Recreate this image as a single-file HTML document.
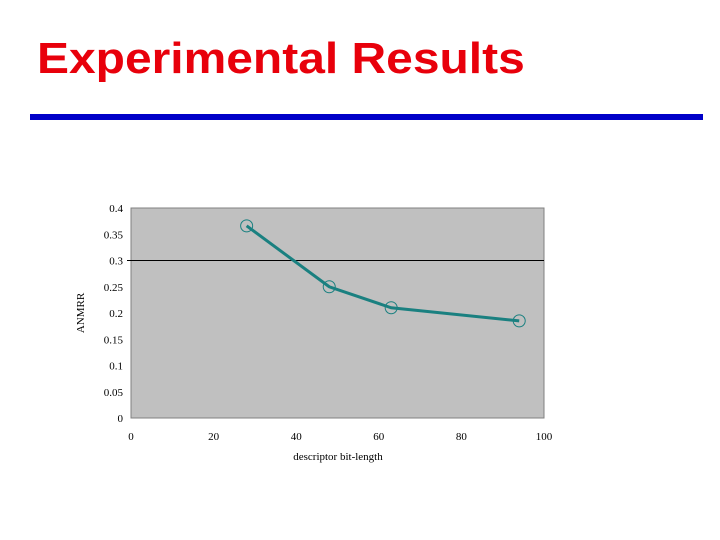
<!DOCTYPE html>
<html><head><meta charset="utf-8"><style>
body{margin:0;width:720px;height:540px;background:#fff;overflow:hidden;position:relative;font-family:"Liberation Sans",sans-serif}
#title{position:absolute;left:37px;top:34px;font-size:44px;font-weight:bold;color:#e8000b;margin:0;white-space:nowrap;transform:scaleX(1.09);transform-origin:0 0}
#bar{position:absolute;left:30px;top:114px;width:673px;height:6px;background:#0000c8}
svg{position:absolute;left:0;top:0}
</style></head><body>
<h1 id="title">Experimental Results</h1>
<div id="bar"></div>
<svg id="chart" width="720" height="540"></svg>
<script>
const xValues=[28,48,63,94];
const yValues=[0.366,0.25,0.21,0.185];
const xTicks=[0,20,40,60,80,100];
const yTicks=[0,0.05,0.1,0.15,0.2,0.25,0.3,0.35,0.4];
const L=131,R=544,T=208,B=418;
const sx=v=>L+(v-0)/100*(R-L);
const sy=v=>B-(v/0.4)*(B-T);
const svg=document.getElementById('chart');
const NS='http://www.w3.org/2000/svg';
function mk(tag,a){const e=document.createElementNS(NS,tag);for(const k in a)e.setAttribute(k,a[k]);svg.appendChild(e);return e;}
let r=mk('rect',{x:L,y:T,width:R-L,height:B-T,fill:'#c0c0c0',stroke:'#808080','stroke-width':1});


let g=mk('line',{x1:L-4,x2:R,y1:sy(0.3),y2:sy(0.3),stroke:'#000','stroke-width':1});


yTicks.forEach(t=>{const e=mk('text',{x:L-8,y:sy(t)+4,'text-anchor':'end','font-family':'Liberation Serif,serif','font-size':11,fill:'#000'});e.textContent=String(t);

});
xTicks.forEach(t=>{const e=mk('text',{x:sx(t),y:440,'text-anchor':'middle','font-family':'Liberation Serif,serif','font-size':11,fill:'#000'});e.textContent=String(t);

});
let yt=mk('text',{x:0,y:0,transform:'translate(84,313) rotate(-90)','text-anchor':'middle','font-family':'Liberation Serif,serif','font-size':11});yt.textContent='ANMRR';


let xt=mk('text',{x:338,y:460,'text-anchor':'middle','font-family':'Liberation Serif,serif','font-size':11});xt.textContent='descriptor bit-length';


let pl=mk('polyline',{points:xValues.map((x,i)=>sx(x)+','+sy(yValues[i])).join(' '),fill:'none',stroke:'#1a8080','stroke-width':3});


xValues.forEach((x,i)=>{const c=mk('circle',{cx:sx(x),cy:sy(yValues[i]),r:6,fill:'none',stroke:'#1a8080','stroke-width':1});

});
</script>
</body></html>
